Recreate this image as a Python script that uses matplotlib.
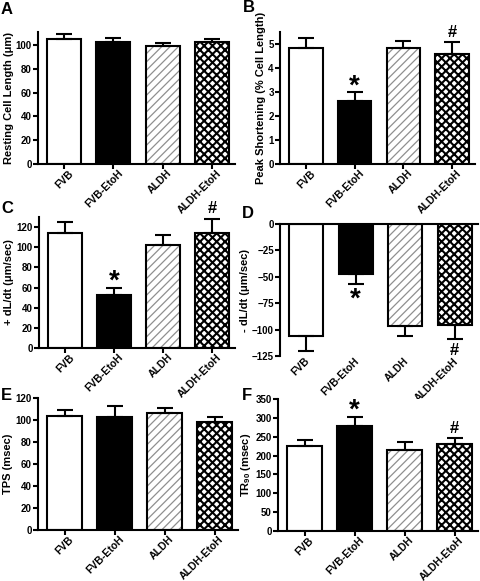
import numpy as np
import matplotlib
matplotlib.use("Agg")
import matplotlib.pyplot as plt
from matplotlib.transforms import ScaledTranslation

plt.rcParams['font.family'] = ['Liberation Sans', 'DejaVu Sans']
plt.rcParams['font.weight'] = 'bold'
plt.rcParams['mathtext.fontset'] = 'custom'
plt.rcParams['mathtext.bf'] = 'Liberation Sans:bold'
plt.rcParams['mathtext.rm'] = 'Liberation Sans:bold'
plt.rcParams['mathtext.default'] = 'bf'

# groups
groups = ["FVB", "FVB-EtoH", "ALDH", "ALDH-EtoH"]

# panel data (mean, SEM)
cell_length = [105, 103, 99.5, 103]
cell_length_err = [4, 3, 2.5, 2.5]
peak_short = [4.85, 2.62, 4.82, 4.6]
peak_short_err = [0.4, 0.36, 0.31, 0.48]
plus_dldt = [114, 53, 102, 114]
plus_dldt_err = [11, 7, 10, 14]
minus_dldt = [-106, -47.5, -96.5, -95.5]
minus_dldt_err = [14, 9.5, 9.5, 13]
tps = [104, 103, 106, 98]
tps_err = [5, 10, 5, 5]
tr90 = [226, 279, 215, 230]
tr90_err = [16, 23, 22, 16]

# significance marks: (group index, symbol)
marks_b = [(1, "*"), (3, "#")]
marks_c = [(1, "*"), (3, "#")]
marks_d = [(1, "*"), (3, "#")]
marks_f = [(1, "*"), (3, "#")]

W, H = 480, 581
fig = plt.figure(figsize=(4.8, 5.81), dpi=100)


def px_axes(left, right, top, bottom):
    return fig.add_axes([left / W, 1 - bottom / H, (right - left) / W, (bottom - top) / H])


panels = [
    dict(box=(38, 235, 32, 164), y=cell_length, e=cell_length_err, ylim=(0, 111),
         ticks=np.arange(0, 101, 20), ylabel="Resting Cell Length (\u03bcm)", letter="A",
         lpos=(1, 2), marks=[]),
    dict(box=(280, 475, 32, 164), y=peak_short, e=peak_short_err, ylim=(0, 5.5),
         ticks=np.arange(0, 6, 1), ylabel="Peak Shortening (% Cell Length)", letter="B",
         lpos=(243, 0), marks=marks_b),
    dict(box=(39, 235, 217, 348), y=plus_dldt, e=plus_dldt_err, ylim=(0, 130),
         ticks=np.arange(0, 121, 20), ylabel="+ dL/dt (\u03bcm/sec)", letter="C",
         lpos=(1, 201), marks=marks_c),
    dict(box=(280, 478, 224, 356), y=minus_dldt, e=minus_dldt_err, ylim=(-125, 0),
         ticks=np.arange(-125, 1, 25), ylabel="- dL/dt (\u03bcm/sec)", letter="D",
         lpos=(242, 206), marks=marks_d),
    dict(box=(38, 238, 398, 530), y=tps, e=tps_err, ylim=(0, 120),
         ticks=np.arange(0, 121, 20), ylabel="TPS (msec)", letter="E",
         lpos=(1, 388), marks=[]),
    dict(box=(278, 478, 399, 531), y=tr90, e=tr90_err, ylim=(0, 350),
         ticks=np.arange(0, 351, 50), ylabel="TR$_{90}$ (msec)", letter="F",
         lpos=(242, 388), marks=marks_f),
]

x = np.arange(len(groups))
bw = 0.69
lw = 1.5

for p in panels:
    ax = px_axes(*p["box"])
    y = np.array(p["y"])
    e = np.array(p["e"])
    neg = y[0] < 0

    # plain bars
    ax.bar(x[0], y[0], bw, color="white", edgecolor="black", linewidth=lw, zorder=2)
    ax.bar(x[1], y[1], bw, color="black", edgecolor="black", linewidth=lw, zorder=2)
    # hatched bars (hatch drawn first, outline on top)
    with plt.rc_context({'hatch.linewidth': 0.9}):
        ax.bar(x[2], y[2], bw, color="white", edgecolor="#8f8f8f", hatch="////",
               linewidth=0, zorder=2)
    with plt.rc_context({'hatch.linewidth': 1.5}):
        ax.bar(x[3], y[3], bw, color="white", edgecolor="black", hatch="xxxx",
               linewidth=0, zorder=2)
    ax.bar(x[2:], y[2:], bw, fill=False, edgecolor="black", linewidth=lw, zorder=3)

    zeros = np.zeros_like(e)
    yerr = [e, zeros] if neg else [zeros, e]
    ax.errorbar(x, y, yerr=yerr, fmt="none", ecolor="black", elinewidth=lw,
                capsize=6, capthick=lw, zorder=4)

    for i, sym in p["marks"]:
        if neg:
            tip = y[i] - e[i]
            off = -2 if sym == "*" else -3.5
            ax.annotate(sym, (x[i], tip), xytext=(0, off), textcoords="offset points",
                        ha="center", va="top", fontsize=20 if sym == "*" else 12)
        else:
            tip = y[i] + e[i]
            off = -0.5 if sym == "*" else 4
            ax.annotate(sym, (x[i], tip), xytext=(0, off), textcoords="offset points",
                        ha="center", va="baseline", fontsize=20 if sym == "*" else 12)

    ax.set_xlim(-0.53, 3.47)
    ax.set_ylim(*p["ylim"])
    ax.set_yticks(p["ticks"])
    ax.set_xticks(x)
    ax.set_xticklabels(groups, rotation=45, ha="right", rotation_mode="anchor")
    ax.tick_params(axis="y", labelsize=7, width=lw, length=3.5, direction="out", pad=1)
    ax.tick_params(axis="x", labelsize=7.5, width=lw, length=3.5, direction="out", pad=0)
    ax.set_ylabel(p["ylabel"], fontsize=8, fontweight="bold", labelpad=1.5)
    for side in ["left", "bottom", "top", "right"]:
        ax.spines[side].set_linewidth(lw)
    ax.spines["right"].set_visible(False)
    if neg:
        ax.spines["bottom"].set_visible(False)
        ax.tick_params(axis="x", length=0, pad=0)
        shift = ScaledTranslation(-1 / 72, 0, fig.dpi_scale_trans)
    else:
        ax.spines["top"].set_visible(False)
        shift = ScaledTranslation(3 / 72, 0.5 / 72, fig.dpi_scale_trans)
    for lab in ax.get_xticklabels():
        lab.set_transform(lab.get_transform() + shift)

    fig.text(p["lpos"][0] / W, 1 - p["lpos"][1] / H, p["letter"], fontsize=12,
             fontweight="bold", ha="left", va="top")

fig.savefig("out.png", dpi=100)
